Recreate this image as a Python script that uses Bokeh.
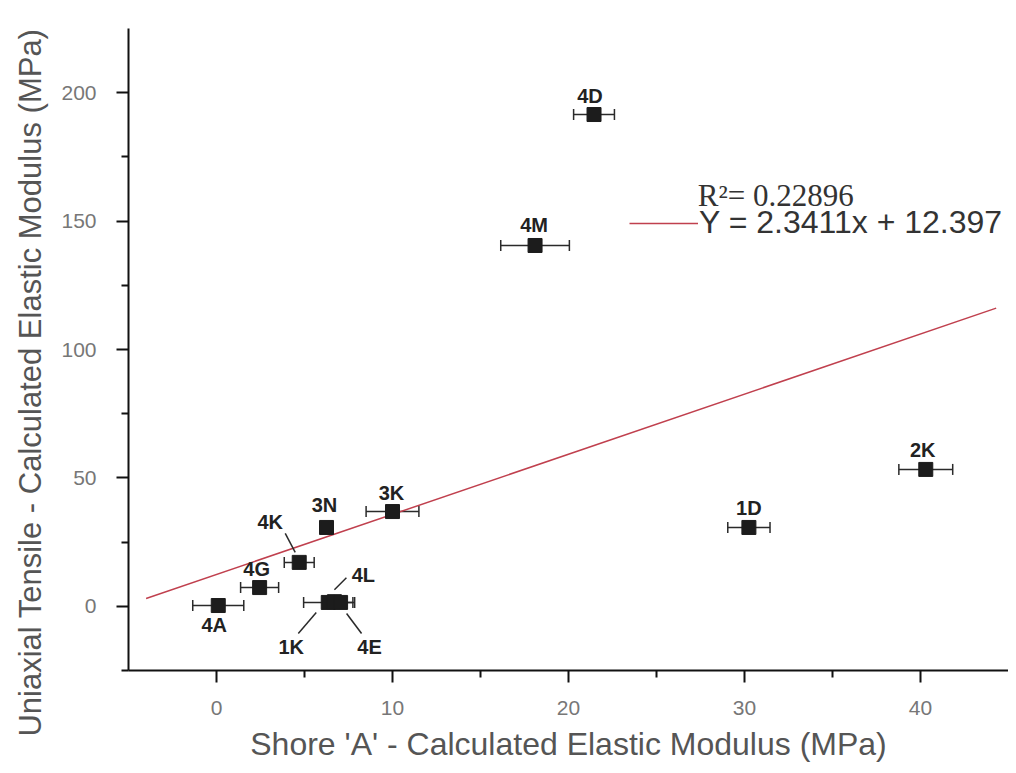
from bokeh.plotting import figure
from bokeh.models import (Range1d, FixedTicker, ColumnDataSource, Whisker, TeeHead,
                          Legend, LegendItem, Label, Title)
from bokeh.core.properties import value
from bokeh.embed import file_html
from bokeh.resources import INLINE

# ---------------- data ----------------
names = ["4A", "4G", "4K", "3N", "3K", "1K", "4L", "4E", "1D", "2K", "4D", "4M"]
shore_x = [0.1, 2.45, 4.7, 6.25, 10.0, 6.35, 6.7, 7.05, 30.25, 40.3, 21.45, 18.1]
tensile_y = [0.3, 7.3, 17.1, 30.7, 36.9, 1.5, 1.8, 1.5, 30.7, 53.3, 191.5, 140.5]
shore_err = [1.45, 1.08, 0.85, 0.3, 1.5, 1.4, 0.5, 0.8, 1.2, 1.53, 1.16, 1.95]

slope = 2.3411
intercept = 12.397
r2 = 0.22896
fit_x = [-4.0, 44.3]

x_ticks = [0, 10, 20, 30, 40]
x_minor = [5, 15, 25, 35]
y_ticks = [0, 50, 100, 150, 200]
y_minor = [-25, 25, 75, 125, 175]

x_title = "Shore 'A' - Calculated Elastic Modulus (MPa)"
y_title = "Uniaxial Tensile - Calculated Elastic Modulus (MPa)"

# ---------------- layout / styling ----------------
X0, X1 = -5, 45
Y0, Y1 = -25, 225
LEFT, TOP, BOTTOM, RIGHT = 127, 28, 95, 0
FW, FH = 881, 642
W, H = LEFT + FW + RIGHT, TOP + FH + BOTTOM
PXX = FW / (X1 - X0)   # px per x unit
PXY = FH / (Y1 - Y0)   # px per y unit


def sx(px):  # page px -> data x
    return X0 + (px - LEFT) / PXX


def sy(py):  # page px -> data y
    return Y0 + (TOP + FH - py) / PXY


lab_dx = [-4, -3, -29, -2, -1, -37, 29, 29, 0, -3, -4, -1]
lab_dy = [19, -19, -40, -22, -19, 45, -27, 45, -19, -19, -19, -20]

leaders = {  # screen-pixel offsets from the point (y down)
    "4K": ((-14, -29), (-4, -10)),
    "4L": ((0, -12), (12, -24)),
    "1K": ((-12, 10), (-30, 31)),
    "4E": ((6, 11), (21, 31)),
}

p = figure(width=W, height=H, x_range=Range1d(X0, X1), y_range=Range1d(Y0, Y1),
           output_backend="svg", toolbar_location=None,
           min_border_left=LEFT, min_border_right=RIGHT,
           min_border_top=TOP, min_border_bottom=BOTTOM)
p.outline_line_color = None
p.grid.visible = False
p.background_fill_color = "white"
p.border_fill_color = "white"

for ax in (p.xaxis[0], p.yaxis[0]):
    ax.axis_line_color = "#111111"
    ax.axis_line_width = 2
    ax.major_tick_line_color = "#111111"
    ax.major_tick_line_width = 2
    ax.minor_tick_line_color = "#111111"
    ax.minor_tick_line_width = 2
    ax.major_tick_in = 0
    ax.major_tick_out = 12
    ax.minor_tick_in = 0
    ax.minor_tick_out = 7
    ax.major_label_text_font = "Liberation Sans"
    ax.major_label_text_font_size = "21px"
    ax.major_label_text_color = "#777777"
    ax.axis_label_text_font = "Liberation Sans"
    ax.axis_label_text_font_size = "32px"
    ax.axis_label_text_font_style = "normal"
    ax.axis_label_text_color = "#555555"

p.xaxis.ticker = FixedTicker(ticks=x_ticks, minor_ticks=x_minor)
p.yaxis.ticker = FixedTicker(ticks=y_ticks, minor_ticks=y_minor)
p.xaxis.axis_label = x_title
p.xaxis.major_label_standoff = 18
p.xaxis.axis_label_standoff = 8
p.yaxis.major_label_standoff = 20

# y-axis title as a side title, aligned to the top end of the frame
p.add_layout(Title(text=y_title, align="right", offset=0, standoff=21,
                   text_font="Liberation Sans", text_font_size="31px",
                   text_font_style="normal", text_color="#555555"), "left")

# trend line
fit_y = [slope * v + intercept for v in fit_x]
trend = p.line(fit_x, fit_y, line_color="#c0404e", line_width=1.5)

# error bars
src = ColumnDataSource(dict(
    x=shore_x, y=tensile_y,
    lo=[a - e for a, e in zip(shore_x, shore_err)],
    hi=[a + e for a, e in zip(shore_x, shore_err)],
    name=names, dx=lab_dx, dy=lab_dy))
wh = Whisker(source=src, base="y", lower="lo", upper="hi", dimension="width",
             line_color="#2a2a2a", line_width=1.5,
             lower_head=TeeHead(size=11, line_color="#2a2a2a", line_width=1.5),
             upper_head=TeeHead(size=11, line_color="#2a2a2a", line_width=1.5))
p.add_layout(wh)

p.scatter("x", "y", source=src, marker="square", size=14,
          fill_color="#1c1c1c", line_color="#1c1c1c")

# leader lines
lx0, ly0, lx1, ly1 = [], [], [], []
for n, ((a0, b0), (a1, b1)) in leaders.items():
    i = names.index(n)
    lx0.append(shore_x[i] + a0 / PXX)
    ly0.append(tensile_y[i] - b0 / PXY)
    lx1.append(shore_x[i] + a1 / PXX)
    ly1.append(tensile_y[i] - b1 / PXY)
p.segment(lx0, ly0, lx1, ly1, line_color="#2a2a2a", line_width=1.5)

p.text("x", "y", text="name", source=src, x_offset="dx", y_offset="dy",
       text_align="center", text_baseline="middle",
       text_font=value("Liberation Sans"), text_font_style="bold",
       text_font_size="20px", text_color="#222222")

# legend
legend = Legend(items=[LegendItem(label="Y = 2.3411x + 12.397", renderers=[trend])],
                location=(628 - LEFT, (TOP + FH) - 225 - 16), orientation="vertical",
                label_text_font="Liberation Sans", label_text_font_size="32px",
                label_text_color="#333333", glyph_width=69, glyph_height=32,
                label_height=32, label_standoff=1, padding=0, margin=0, spacing=0,
                border_line_color=None, background_fill_alpha=0)
p.add_layout(legend)

p.add_layout(Label(x=sx(697), y=sy(195), text="R\u00b2= %.5f" % r2,
                   text_font="Liberation Serif", text_font_size="31px",
                   text_color="#333333", text_baseline="middle", text_align="left"))

open("out.html", "w").write(file_html(p, INLINE))
